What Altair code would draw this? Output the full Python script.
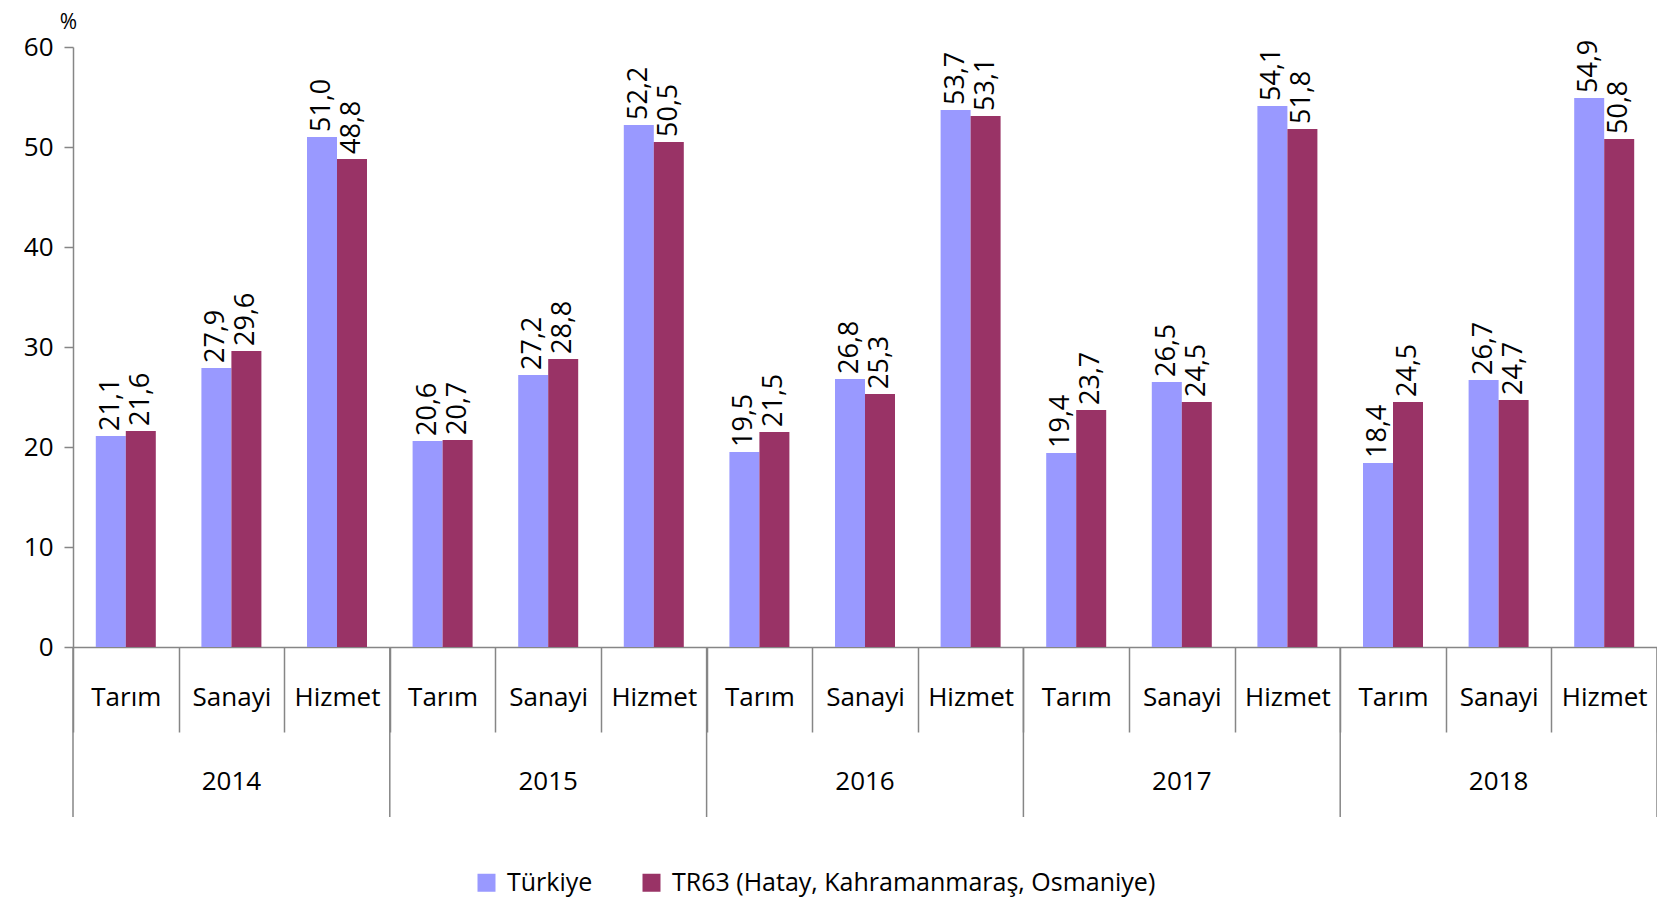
import altair as alt
import pandas as pd

years = ["2014", "2015", "2016", "2017", "2018"]
sectors = ["Tarım", "Sanayi", "Hizmet"]
series = ["Türkiye", "TR63 (Hatay, Kahramanmaraş, Osmaniye)"]
turkiye = [21.1, 27.9, 51.0, 20.6, 27.2, 52.2, 19.5, 26.8, 53.7, 19.4, 26.5, 54.1, 18.4, 26.7, 54.9]
tr63 = [21.6, 29.6, 48.8, 20.7, 28.8, 50.5, 21.5, 25.3, 53.1, 23.7, 24.5, 51.8, 24.5, 24.7, 50.8]
colors = ["#9999FF", "#993366"]

FONT = "Open Sans"
W, H = 1584, 600

keys = [f"{y}|{s}" for y in years for s in sectors]
rows = []
for i, k in enumerate(keys):
    for name, vals in zip(series, [turkiye, tr63]):
        v = vals[i]
        rows.append({"key": k, "series": name, "value": v,
                     "label": f"{v:.1f}".replace(".", ",")})
df = pd.DataFrame(rows)

xscale = alt.Scale(domain=keys, paddingInner=0, paddingOuter=0)
x = alt.X("key:N", sort=keys, scale=xscale, title=None,
          axis=alt.Axis(tickBand="extent", tickSize=85, tickColor="#868686", tickWidth=1.5,
                        domainColor="#868686", domainWidth=1.5,
                        labelExpr="split(datum.value, '|')[1]", labelAngle=0,
                        labelFont=FONT, labelFontSize=26, labelColor="black",
                        labelBaseline="middle", labelPadding=-35))
xoff = alt.XOffset("series:N", sort=series,
                   scale=alt.Scale(paddingInner=0, paddingOuter=0.76))
y = alt.Y("value:Q", scale=alt.Scale(domain=[0, 60], nice=False),
          axis=alt.Axis(values=[0, 10, 20, 30, 40, 50, 60], grid=False,
                        domainColor="#868686", domainWidth=1.5,
                        tickColor="#868686", tickWidth=1.5, tickSize=9,
                        labelFont=FONT, labelFontSize=26, labelColor="black", labelPadding=11,
                        title="%", titleAngle=0, titleX=-5, titleY=-25, titleAlign="center",
                        titleBaseline="middle", titleFont=FONT, titleFontSize=21,
                        titleFontWeight="normal", titleColor="black"))
color = alt.Color("series:N", sort=series, scale=alt.Scale(domain=series, range=colors),
                  legend=alt.Legend(title=None, orient="none", legendX=401, legendY=823,
                                    direction="horizontal", symbolType="square", symbolSize=324,
                                    symbolStrokeWidth=0, labelFont=FONT, labelFontSize=25,
                                    labelColor="black", columnPadding=46, labelOffset=8,
                                    padding=0, labelLimit=700))

base = alt.Chart(df)
bars = base.mark_bar().encode(x=x, xOffset=xoff, y=y, color=color)
labels = base.mark_text(angle=270, align="left", baseline="middle", dx=5,
                        font=FONT, fontSize=27, color="black").encode(
    x=alt.X("key:N", sort=keys, scale=xscale), xOffset=xoff, y="value:Q", text="label:N")

main = alt.layer(bars, labels)

yr_df = pd.DataFrame({"year": years, "pos": [i * 3 + 1.5 for i in range(len(years))]})
sep_df = pd.DataFrame({"pos": [i * 3 for i in range(len(years) + 1)]})
qx = alt.Scale(domain=[0, len(keys)], nice=False, zero=False)
year_text = alt.Chart(yr_df).mark_text(font=FONT, fontSize=26, color="black", baseline="middle").encode(
    x=alt.X("pos:Q", scale=qx, axis=None), y=alt.value(H + 135), text="year:N")
year_sep = alt.Chart(sep_df).mark_rule(color="#868686", strokeWidth=1.5).encode(
    x=alt.X("pos:Q", scale=qx, axis=None), y=alt.value(H), y2=alt.value(H + 170))

chart = alt.layer(main, year_sep, year_text).resolve_scale(x="independent").properties(
    width=W, height=H,
    autosize=alt.AutoSizeParams(type="none"),
    padding={"left": 65, "top": 39, "right": 0, "bottom": 252},
).configure_view(stroke=None)

chart.save("out.html", embed_options={"renderer": "svg", "actions": False})
